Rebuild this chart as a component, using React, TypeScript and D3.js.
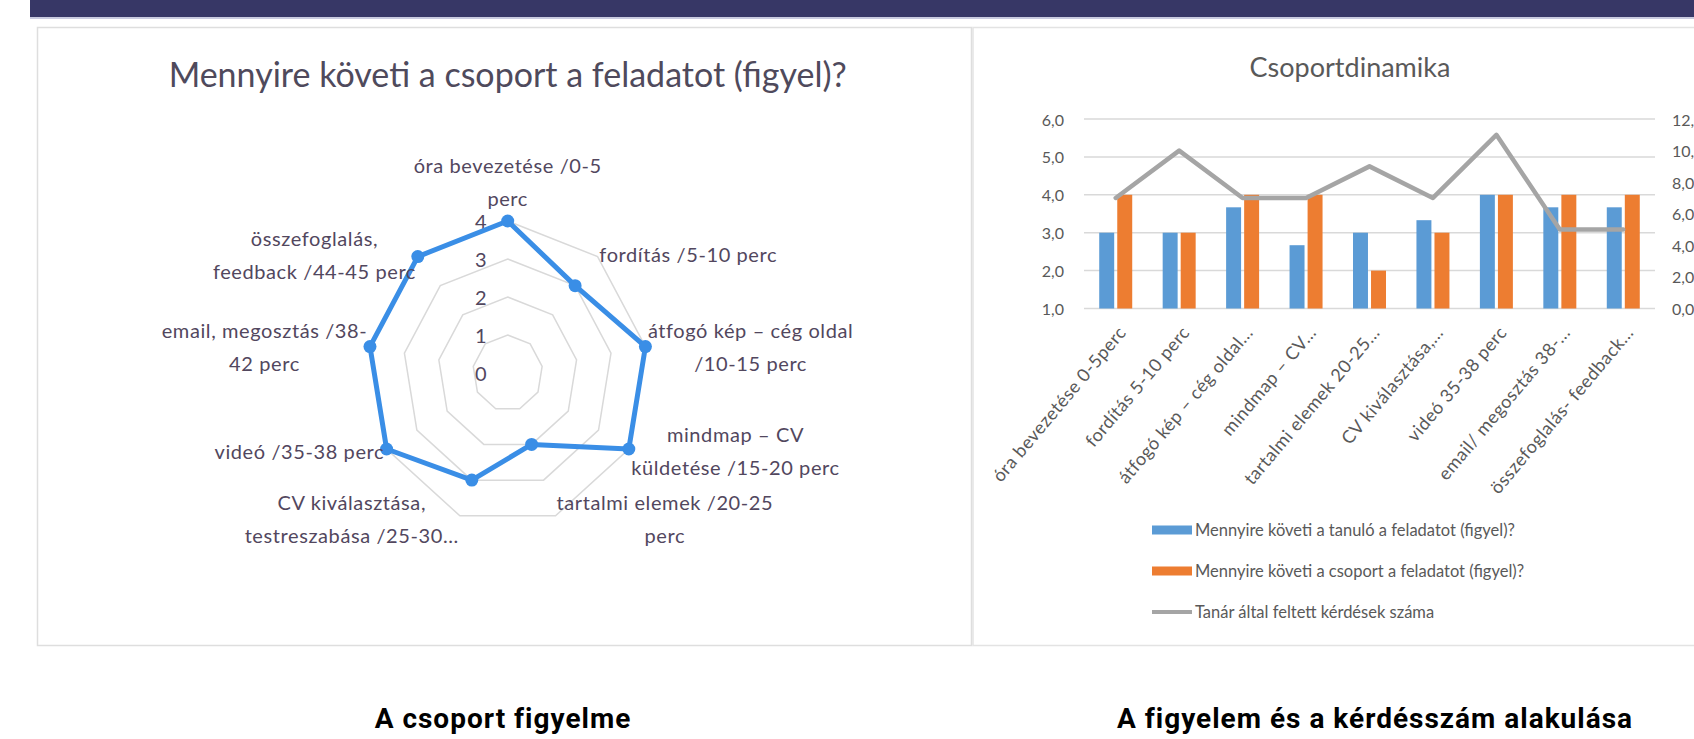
import React from 'react'
import * as d3 from 'd3'

// radar chart (left panel)
const radarTitle = 'Mennyire követi a csoport a feladatot (figyel)?'
const radarLabels = [
  ['óra bevezetése /0-5', 'perc'],
  ['fordítás /5-10 perc'],
  ['átfogó kép – cég oldal', '/10-15 perc'],
  ['mindmap – CV', 'küldetése /15-20 perc'],
  ['tartalmi elemek /20-25', 'perc'],
  ['CV kiválasztása,', 'testreszabása /25-30...'],
  ['videó /35-38 perc'],
  ['email, megosztás /38-', '42 perc'],
  ['összefoglalás,', 'feedback /44-45 perc'],
]
const radarTicks = [0, 1, 2, 3, 4]

// combo chart (right panel)
const barTitle = 'Csoportdinamika'
const barCategories = [
  'óra bevezetése 0-5perc',
  'fordítás 5-10 perc',
  'átfogó kép – cég oldal...',
  'mindmap – CV...',
  'tartalmi elemek 20-25...',
  'CV kiválasztása,...',
  'videó 35-38 perc',
  'email/ megosztás 38-...',
  'összefoglalás- feedback...',
]
const studentAttention = [3, 3, 3.67, 2.67, 3, 3.33, 4, 3.67, 3.67]
const groupAttention = [4, 3, 4, 4, 2, 3, 4, 4, 4]
const teacherQuestions = [7, 10, 7, 7, 9, 7, 11, 5, 5]
const leftTicks = [1, 2, 3, 4, 5, 6]
const rightTicks = [0, 2, 4, 6, 8, 10, 12]
const seriesNames = [
  'Mennyire követi a tanuló a feladatot (figyel)?',
  'Mennyire követi a csoport a feladatot (figyel)?',
  'Tanár által feltett kérdések száma',
]
const captions = ['A csoport figyelme', 'A figyelem és a kérdésszám alakulása']

const BLUE = '#5b9bd5'
const ORANGE = '#ed7d31'
const GRAY = '#a5a5a5'
const RADAR_BLUE = '#3a8ee6'
const TXT = '#595959'
const RTXT = '#52475e'
const FONT = 'Lato, "Open Sans", sans-serif'

let ctx: CanvasRenderingContext2D | null = null
const measure = (s: string, font: string, spacing = 0) => {
  if (!ctx) ctx = document.createElement('canvas').getContext('2d')
  if (!ctx) return s.length * 10
  ctx.font = font
  return ctx.measureText(s).width + spacing * s.length
}

const comma = (v: number) => d3.format('.1f')(v).replace('.', ',')

const Radar = () => {
  const cx = 507.7
  const cy = 373
  const sx = 0.92 // the original is a bit squeezed horizontally
  const n = radarLabels.length
  const r = d3.scaleLinear().domain([0, 4]).range([0, 152])
  const ang = (i: number) => (i * 2 * Math.PI) / n
  const pt = (rad: number, i: number): [number, number] => [
    cx + sx * rad * Math.sin(ang(i)),
    cy - rad * Math.cos(ang(i)),
  ]
  const ring = d3.line().curve(d3.curveLinearClosed)
  const lineH = 33
  const labelSize = 20
  const labelSpacing = 0.6
  const labelFont = `${labelSize}px ${FONT}`

  return (
    <g>
      <text x={cx} y={87} textAnchor="middle" fontFamily={FONT} fontSize={34} fill="#4f4a5c">
        {radarTitle}
      </text>
      {radarTicks.filter((t) => t > 0).map((t) => (
        <path
          key={t}
          d={ring(d3.range(n).map((i) => pt(r(t), i))) || ''}
          fill="none"
          stroke="#d9d9d9"
          strokeWidth={1.5}
        />
      ))}
      {radarTicks.map((t) => (
        <text
          key={t}
          x={cx - 21}
          y={cy - r(t)}
          textAnchor="end"
          dominantBaseline="central"
          fontFamily={FONT}
          fontSize={20}
          fill={RTXT}
        >
          {t}
        </text>
      ))}
      <path
        d={ring(groupAttention.map((v, i) => pt(r(v), i))) || ''}
        fill="none"
        stroke={RADAR_BLUE}
        strokeWidth={5}
        strokeLinejoin="round"
      />
      {groupAttention.map((v, i) => {
        const [x, y] = pt(r(v), i)
        return <circle key={i} cx={x} cy={y} r={6.5} fill={RADAR_BLUE} />
      })}
      {radarLabels.map((lines, i) => {
        const [px, py] = pt(r.range()[1] + 3, i)
        const s = Math.sin(ang(i))
        const w = d3.max(lines, (l) => measure(l, labelFont, labelSpacing)) || 0
        let x = px
        let ys: number[]
        if (Math.abs(s) < 0.1) {
          ys = lines.map((_, j) => py - 20 - (lines.length - 1 - j) * lineH)
        } else {
          x = px + Math.sign(s) * (w / 2)
          ys = lines.map((_, j) => py + (j - (lines.length - 1) / 2) * lineH)
        }
        return (
          <g key={i}>
            {lines.map((l, j) => (
              <text
                key={j}
                x={x}
                y={ys[j]}
                textAnchor="middle"
                dominantBaseline="central"
                fontFamily={FONT}
                fontSize={labelSize}
                letterSpacing={labelSpacing}
                fill={RTXT}
              >
                {l}
              </text>
            ))}
          </g>
        )
      })}
    </g>
  )
}

const Combo = () => {
  const left = 1084
  const right = 1655
  const top = 119
  const bottom = 308.5
  const yL = d3.scaleLinear().domain([1, 6]).range([bottom, top])
  const yR = d3.scaleLinear().domain([0, 12]).range([bottom, top])
  const x0 = d3
    .scaleBand<number>()
    .domain(d3.range(barCategories.length))
    .range([left, right])
    .paddingInner(0.48)
    .paddingOuter(0.24)
  const x1 = d3.scaleBand<number>().domain([0, 1]).range([0, x0.bandwidth()]).paddingInner(0.17)
  const mid = (i: number) => (x0(i) || 0) + x0.bandwidth() / 2
  const line = d3
    .line<number>()
    .x((_, i) => mid(i))
    .y((d) => yR(d))
  const series = [studentAttention, groupAttention]
  const colors = [BLUE, ORANGE]
  const legendY = [530, 571, 612]

  return (
    <g>
      <text x={1350} y={77} textAnchor="middle" fontFamily={FONT} fontSize={27} fill={TXT}>
        {barTitle}
      </text>
      {leftTicks.map((t) => (
        <g key={t}>
          <line x1={left} x2={right} y1={yL(t)} y2={yL(t)} stroke="#d9d9d9" strokeWidth={1.5} />
          <text
            x={left - 20}
            y={yL(t)}
            textAnchor="end"
            dominantBaseline="central"
            fontFamily={FONT}
            fontSize={16}
            fill={TXT}
          >
            {comma(t)}
          </text>
        </g>
      ))}
      {rightTicks.map((t) => (
        <text
          key={t}
          x={right + 17}
          y={yR(t)}
          dominantBaseline="central"
          fontFamily={FONT}
          fontSize={16}
          fill={TXT}
        >
          {comma(t)}
        </text>
      ))}
      {series.map((vals, s) =>
        vals.map((v, i) => (
          <rect
            key={`${s}-${i}`}
            x={(x0(i) || 0) + (x1(s) || 0)}
            y={yL(v)}
            width={x1.bandwidth()}
            height={yL(1) - yL(v)}
            fill={colors[s]}
          />
        ))
      )}
      <path
        d={line(teacherQuestions) || ''}
        fill="none"
        stroke={GRAY}
        strokeWidth={4.5}
        strokeLinejoin="round"
        strokeLinecap="round"
      />
      {barCategories.map((c, i) => (
        <text
          key={i}
          transform={`translate(${mid(i) + 6},${bottom + 20}) rotate(-50)`}
          textAnchor="end"
          dominantBaseline="central"
          fontFamily={FONT}
          fontSize={18}
          letterSpacing={0.5}
          fill={TXT}
        >
          {c}
        </text>
      ))}
      {seriesNames.map((nm, k) => (
        <g key={k}>
          {k < 2 ? (
            <rect x={1152} y={legendY[k] - 4.5} width={40} height={9} fill={colors[k]} />
          ) : (
            <line x1={1152} x2={1192} y1={legendY[k]} y2={legendY[k]} stroke={GRAY} strokeWidth={4} />
          )}
          <text
            x={1195}
            y={legendY[k]}
            dominantBaseline="central"
            fontFamily={FONT}
            fontSize={16.5}
            fill={TXT}
          >
            {nm}
          </text>
        </g>
      ))}
    </g>
  )
}

export default function App() {
  return (
    <div style={{ position: 'fixed', left: 0, top: 0, width: 1694, height: 739, overflow: 'hidden', background: '#fff' }}>
      <svg width={1694} height={739} viewBox="0 0 1694 739">
        <rect x={0} y={0} width={1694} height={739} fill="#fff" />
        <rect x={30} y={0} width={1664} height={17} fill="#373766" />
        <rect x={30} y={17} width={1664} height={2} fill="#c9cbe0" />
        <rect x={37.5} y={27.5} width={934} height={618} fill="#fff" stroke="#dedede" strokeWidth={1.5} />
        <rect x={973} y={27.5} width={760} height={618} fill="#fff" stroke="#e3e3e3" strokeWidth={1.5} />
        <Radar />
        <Combo />
        {captions.map((c, i) => (
          <text
            key={i}
            x={i === 0 ? 503 : 1375}
            y={718}
            textAnchor="middle"
            dominantBaseline="central"
            fontFamily="Roboto, sans-serif"
            fontWeight={700}
            fontSize={28}
            letterSpacing={1}
            fill="#000"
          >
            {c}
          </text>
        ))}
      </svg>
    </div>
  )
}
